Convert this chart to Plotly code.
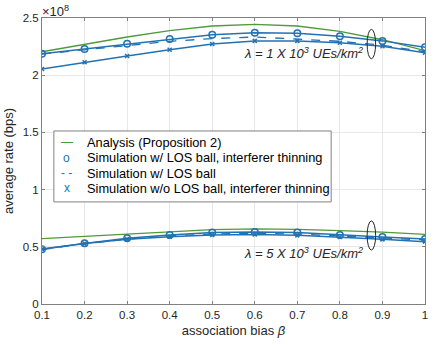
import plotly.graph_objects as go

# association bias
beta = [0.1, 0.2, 0.3, 0.4, 0.5, 0.6, 0.7, 0.8, 0.9, 1.0]

# lambda = 1e3 UEs/km^2 (bps)
analysis_1k = [2.205e8, 2.27e8, 2.334e8, 2.389e8, 2.43e8, 2.445e8, 2.43e8, 2.384e8, 2.31e8, 2.214e8]
sim_los_thin_1k = [2.188e8, 2.229e8, 2.275e8, 2.316e8, 2.354e8, 2.372e8, 2.366e8, 2.34e8, 2.30e8, 2.244e8]
sim_los_1k = [2.185e8, 2.22e8, 2.26e8, 2.296e8, 2.32e8, 2.334e8, 2.316e8, 2.296e8, 2.262e8, 2.205e8]
sim_nolos_thin_1k = [2.054e8, 2.113e8, 2.168e8, 2.223e8, 2.273e8, 2.30e8, 2.30e8, 2.284e8, 2.253e8, 2.197e8]

# lambda = 5e3 UEs/km^2 (bps)
analysis_5k = [0.571e8, 0.592e8, 0.612e8, 0.632e8, 0.65e8, 0.656e8, 0.653e8, 0.641e8, 0.629e8, 0.609e8]
sim_los_thin_5k = [0.478e8, 0.53e8, 0.574e8, 0.603e8, 0.625e8, 0.629e8, 0.624e8, 0.603e8, 0.586e8, 0.568e8]
sim_los_5k = [0.475e8, 0.527e8, 0.567e8, 0.595e8, 0.612e8, 0.617e8, 0.612e8, 0.597e8, 0.577e8, 0.56e8]
sim_nolos_thin_5k = [0.48e8, 0.528e8, 0.565e8, 0.588e8, 0.604e8, 0.608e8, 0.60e8, 0.585e8, 0.565e8, 0.545e8]

ytick_vals = [0, 0.5e8, 1e8, 1.5e8, 2e8, 2.5e8]
ytick_text = ['0', '0.5', '1', '1.5', '2', '2.5']
xtick_vals = beta
xtick_text = ['0.1', '0.2', '0.3', '0.4', '0.5', '0.6', '0.7', '0.8', '0.9', '1']

legend_names = ['Analysis (Proposition 2)',
                'Simulation w/ LOS ball, interferer thinning',
                'Simulation w/ LOS ball',
                'Simulation w/o LOS ball, interferer thinning']
legend_marks = ['—', 'o', '- -', 'x']

green = '#4f9a3a'
blue = '#2272b4'
font = 'Liberation Sans, Arial, sans-serif'
legend_colors = [green, blue, blue, blue]

fig = go.Figure()

for ana, thin, los, nolos in [(analysis_1k, sim_los_thin_1k, sim_los_1k, sim_nolos_thin_1k),
                              (analysis_5k, sim_los_thin_5k, sim_los_5k, sim_nolos_thin_5k)]:
    fig.add_trace(go.Scatter(x=beta, y=ana, mode='lines', name=legend_names[0],
                             line=dict(color=green, width=1.3)))
    fig.add_trace(go.Scatter(x=beta, y=thin, mode='lines+markers', name=legend_names[1],
                             line=dict(color=blue, width=1.5),
                             marker=dict(symbol='circle-open', size=6.5, color=blue, line=dict(width=1.5))))
    fig.add_trace(go.Scatter(x=beta, y=los, mode='lines', name=legend_names[2],
                             line=dict(color=blue, width=1.3, dash='dash')))
    fig.add_trace(go.Scatter(x=beta, y=nolos, mode='lines+markers', name=legend_names[3],
                             line=dict(color=blue, width=1.5),
                             marker=dict(symbol='x-thin-open', size=4, color=blue, line=dict(width=1.5, color=blue))))

axis_common = dict(showline=True, mirror='ticks', linecolor='#808080', linewidth=1,
                   ticks='inside', ticklen=3, tickcolor='#808080',
                   showgrid=True, gridcolor='#e8e8e8', gridwidth=1, zeroline=False,
                   tickfont=dict(family=font, size=11.5, color='#262626'))

fig.update_xaxes(range=[0.1, 1], tickvals=xtick_vals, ticktext=xtick_text,
                 title=dict(text='association bias <i>β</i>', standoff=6,
                            font=dict(family=font, size=13, color='#262626')),
                 **axis_common)
fig.update_yaxes(range=[0, 2.5e8], tickvals=ytick_vals, ticktext=ytick_text,
                 title=dict(text='average rate (bps)', standoff=6,
                            font=dict(family=font, size=13, color='#262626')),
                 **axis_common)

# ellipses marking the curve groups
fig.add_shape(type='circle', xref='x', yref='y', x0=0.864, x1=0.884, y0=2.144e8, y1=2.401e8,
              line=dict(color='#262626', width=1))
fig.add_shape(type='circle', xref='x', yref='y', x0=0.864, x1=0.884, y0=0.472e8, y1=0.726e8,
              line=dict(color='#262626', width=1))

fig.add_annotation(x=0.858, y=2.19e8, xref='x', yref='y', xanchor='right', yanchor='middle',
                   text='<i>λ = 1 X 10<sup>3</sup> UEs/km<sup>2</sup></i>', showarrow=False,
                   font=dict(family=font, size=13, color='#262626'))
fig.add_annotation(x=0.858, y=0.446e8, xref='x', yref='y', xanchor='right', yanchor='middle',
                   text='<i>λ = 5 X 10<sup>3</sup> UEs/km<sup>2</sup></i>', showarrow=False,
                   font=dict(family=font, size=13, color='#262626'))

# axis multiplier
fig.add_annotation(x=0.1, y=2.5e8, xref='x', yref='y', xanchor='left', yanchor='bottom',
                   text='×10<sup>8</sup>', showarrow=False, yshift=-3, xshift=-2,
                   font=dict(family=font, size=13, color='#262626'))

# legend box, MATLAB style with text marks
fig.add_shape(type='rect', xref='paper', yref='paper', x0=0.031, x1=0.755, y0=0.357, y1=0.605,
              line=dict(color='#808080', width=1), fillcolor='white', layer='above')
row_y = [0.566, 0.512, 0.458, 0.404]
for mark, name, col, yy in zip(legend_marks, legend_names, legend_colors, row_y):
    fig.add_annotation(x=0.064, y=yy, xref='paper', yref='paper', xanchor='center', yanchor='middle',
                       text=mark, showarrow=False, font=dict(family=font, size=12, color=col))
    fig.add_annotation(x=0.111, y=yy, xref='paper', yref='paper', xanchor='left', yanchor='middle',
                       text=name, showarrow=False, font=dict(family=font, size=12.8, color='black'))

fig.update_layout(
    width=436, height=345,
    margin=dict(l=40, r=8, t=18, b=41),
    plot_bgcolor='white', paper_bgcolor='white',
    font=dict(family=font, color='#262626'),
    showlegend=False,
)

fig.write_html("out.html", config={'displayModeBar': False},
               post_script="document.body.style.margin='0px';")
